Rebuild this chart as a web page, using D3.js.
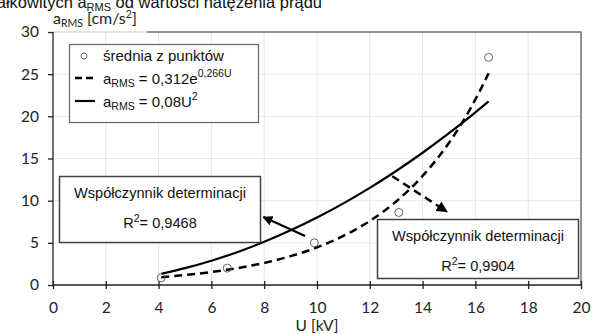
<!DOCTYPE html>
<html>
<head>
<meta charset="utf-8">
<script src="https://cdn.jsdelivr.net/npm/d3@7"></script>
<style>
body { margin: 0; background: #fff; }
svg { display: block; }
.tick text { font-family: Lato, "Open Sans", sans-serif; font-size: 15.5px; fill: #222; }
</style>
</head>
<body>
<div id="chart"></div>
<script>
// measured points (mean of points)
var pointsU = [4.1, 6.6, 9.9, 13.1, 16.5],
	pointsA = [0.85, 2.0, 5.0, 8.6, 27.0];

// trend lines
var trendU = [4.1, 5, 6, 7, 8, 9, 10, 11, 12, 13, 14, 15, 16, 16.5],
	expA = [0.93, 1.18, 1.54, 2.01, 2.62, 3.42, 4.46, 5.82, 7.59, 9.91, 12.93, 16.86, 22.0, 25.1],
	powA = [1.34, 2.0, 2.88, 3.92, 5.12, 6.48, 8.0, 9.68, 11.52, 13.52, 15.68, 18.0, 20.48, 21.78];

var xTicks = [0, 2, 4, 6, 8, 10, 12, 14, 16, 18, 20],
	yTicks = [0, 5, 10, 15, 20, 25, 30];

var r2Labels = ["0,9468", "0,9904"];

var width = 595,
	height = 334,
	arial = "'Liberation Sans', Arial, sans-serif";

var svg = d3.select("#chart")
	.append("svg")
	.attr("width", width)
	.attr("height", height);

var x = d3.scaleLinear().domain([0, 20]).range([53, 581]);
var y = d3.scaleLinear().domain([0, 30]).range([285, 32]);

// title fragment cut by the top edge
var title = svg.append("text")
	.attr("x", 322)
	.attr("y", 7.5)
	.attr("text-anchor", "end")
	.style("font-family", arial)
	.style("font-size", "16.5px")
	.style("fill", "#111");
title.append("tspan").text("całkowitych a");
title.append("tspan").attr("dy", 3).style("font-size", "11px").text("RMS");
title.append("tspan").attr("dy", -3).text(" od wartości natężenia prądu");

// grid
svg.append("g")
	.selectAll("line")
	.data(xTicks.slice(1, -1))
	.enter().append("line")
	.attr("x1", d => x(d)).attr("x2", d => x(d))
	.attr("y1", y(30)).attr("y2", y(0))
	.attr("stroke", "#e6e6e6");

svg.append("g")
	.selectAll("line")
	.data(yTicks.slice(1, -1))
	.enter().append("line")
	.attr("x1", x(0)).attr("x2", x(20))
	.attr("y1", d => y(d)).attr("y2", d => y(d))
	.attr("stroke", "#e6e6e6");

// plot border top and right (left part of the top hidden by the axis title box)
svg.append("line")
	.attr("x1", x(0)).attr("x2", 147)
	.attr("y1", y(30)).attr("y2", y(30))
	.attr("stroke", "#d8d8d8")
	.attr("stroke-width", 1.5);
svg.append("path")
	.attr("d", "M147," + y(30) + "H" + x(20) + "V" + y(0))
	.attr("fill", "none")
	.attr("stroke", "#707070")
	.attr("stroke-width", 1.5);

// axes
var xAxis = d3.axisBottom(x).tickValues(xTicks).tickSize(4).tickPadding(13);
var yAxis = d3.axisLeft(y).tickValues(yTicks).tickSize(5).tickPadding(9);

var xg = svg.append("g")
	.attr("transform", "translate(0," + y(0) + ")")
	.call(xAxis);
xg.selectAll(".tick line").attr("y1", -4).attr("stroke", "#222").attr("stroke-width", 1.3);
xg.select(".domain").attr("d", "M" + x(0) + ",0H" + x(20)).attr("stroke", "#222").attr("stroke-width", 1.3);

var yg = svg.append("g")
	.attr("transform", "translate(" + x(0) + ",0)")
	.call(yAxis);
yg.selectAll(".tick line").attr("stroke", "#222").attr("stroke-width", 1.3);
yg.select(".domain").attr("d", "M0," + y(30) + "V" + y(0)).attr("stroke", "#222").attr("stroke-width", 1.3);

// axis titles
var yt = svg.append("text")
	.attr("x", 53)
	.attr("y", 24)
	.style("font-family", "Lato, sans-serif")
	.style("font-size", "16px")
	.style("fill", "#222");
yt.append("tspan").text("a");
yt.append("tspan").attr("dy", 3).style("font-size", "10.5px").text("RMS");
yt.append("tspan").attr("dy", -3).text(" [cm/s");
yt.append("tspan").attr("dy", -6).style("font-size", "10.5px").text("2");
yt.append("tspan").attr("dy", 6).text("]");

svg.append("text")
	.attr("x", x(10))
	.attr("y", 331)
	.attr("text-anchor", "middle")
	.style("font-family", "Lato, sans-serif")
	.style("font-size", "15.5px")
	.style("fill", "#222")
	.text("U [kV]");

// trend lines
var trend = trendU.map((u, i) => ({u: u, e: expA[i], p: powA[i]}));

var lineExp = d3.line().x(d => x(d.u)).y(d => y(d.e)).curve(d3.curveMonotoneX);
var linePow = d3.line().x(d => x(d.u)).y(d => y(d.p)).curve(d3.curveMonotoneX);

svg.append("path")
	.attr("d", linePow(trend))
	.attr("fill", "none")
	.attr("stroke", "#000")
	.attr("stroke-width", 2.2);

svg.append("path")
	.attr("d", lineExp(trend))
	.attr("fill", "none")
	.attr("stroke", "#000")
	.attr("stroke-width", 2.5)
	.attr("stroke-dasharray", "8,5");

// points
svg.append("g")
	.selectAll("circle")
	.data(pointsU)
	.enter().append("circle")
	.attr("cx", d => x(d))
	.attr("cy", (d, i) => y(pointsA[i]))
	.attr("r", 4)
	.attr("fill", "none")
	.attr("stroke", "#666")
	.attr("stroke-width", 1);

// legend
var legend = svg.append("g");
legend.append("rect")
	.attr("x", 69.5).attr("y", 44.5)
	.attr("width", 189).attr("height", 78)
	.attr("fill", "#fff")
	.attr("stroke", "#666")
	.attr("stroke-width", 1.2);

legend.append("circle")
	.attr("cx", 84).attr("cy", 56).attr("r", 3)
	.attr("fill", "#fff").attr("stroke", "#666");
legend.append("line")
	.attr("x1", 75).attr("x2", 95).attr("y1", 78).attr("y2", 78)
	.attr("stroke", "#000").attr("stroke-width", 2.5).attr("stroke-dasharray", "7,4");
legend.append("line")
	.attr("x1", 75).attr("x2", 95).attr("y1", 101).attr("y2", 101)
	.attr("stroke", "#000").attr("stroke-width", 2.2);

function legendText(yPos) {
	return legend.append("text")
		.attr("x", 103).attr("y", yPos)
		.style("font-family", arial)
		.style("font-size", "15px")
		.style("fill", "#111");
}
legendText(61).text("średnia z punktów");
var t2 = legendText(84);
t2.append("tspan").text("a");
t2.append("tspan").attr("dy", 3).style("font-size", "10.5px").text("RMS");
t2.append("tspan").attr("dy", -3).text(" = 0,312e");
t2.append("tspan").attr("dy", -7).style("font-size", "10.5px").text("0,266U");
var t3 = legendText(107);
t3.append("tspan").text("a");
t3.append("tspan").attr("dy", 3).style("font-size", "10.5px").text("RMS");
t3.append("tspan").attr("dy", -3).text(" = 0,08U");
t3.append("tspan").attr("dy", -7).style("font-size", "10.5px").text("2");

// arrowheads
var defs = svg.append("defs");
defs.append("marker")
	.attr("id", "head")
	.attr("viewBox", "0 0 10 10")
	.attr("refX", 9).attr("refY", 5)
	.attr("markerWidth", 4.5).attr("markerHeight", 4.5)
	.attr("markerUnits", "strokeWidth")
	.attr("orient", "auto")
	.append("path")
	.attr("d", "M0,0L10,5L0,10z")
	.attr("fill", "#000");

// annotation arrows (data coordinates)
svg.append("line")
	.attr("x1", x(9.55)).attr("y1", y(5.8))
	.attr("x2", x(7.97)).attr("y2", y(8.05))
	.attr("stroke", "#000").attr("stroke-width", 2.2)
	.attr("marker-end", "url(#head)");

svg.append("line")
	.attr("x1", x(12.85)).attr("y1", y(12.9))
	.attr("x2", x(14.92)).attr("y2", y(8.7))
	.attr("stroke", "#000").attr("stroke-width", 2.5)
	.attr("stroke-dasharray", "8,5")
	.attr("marker-end", "url(#head)");

// R2 boxes
function r2Box(bx, by, bw, bh, value) {
	var g = svg.append("g");
	g.append("rect")
		.attr("x", bx).attr("y", by)
		.attr("width", bw).attr("height", bh)
		.attr("fill", "#fff")
		.attr("stroke", "#404040")
		.attr("stroke-width", 1.5);
	g.append("text")
		.attr("x", bx + bw / 2).attr("y", by + 21)
		.attr("text-anchor", "middle")
		.style("font-family", arial).style("font-size", "14.6px").style("fill", "#111")
		.text("Współczynnik determinacji");
	var t = g.append("text")
		.attr("x", bx + bw / 2).attr("y", by + 51)
		.attr("text-anchor", "middle")
		.style("font-family", arial).style("font-size", "14.6px").style("fill", "#111");
	t.append("tspan").text("R");
	t.append("tspan").attr("dy", -6).style("font-size", "10.5px").text("2");
	t.append("tspan").attr("dy", 6).text("= " + value);
}
r2Box(59.5, 176.5, 201, 66, r2Labels[0]);
r2Box(377.5, 219.5, 201, 59, r2Labels[1]);
</script>
</body>
</html>
